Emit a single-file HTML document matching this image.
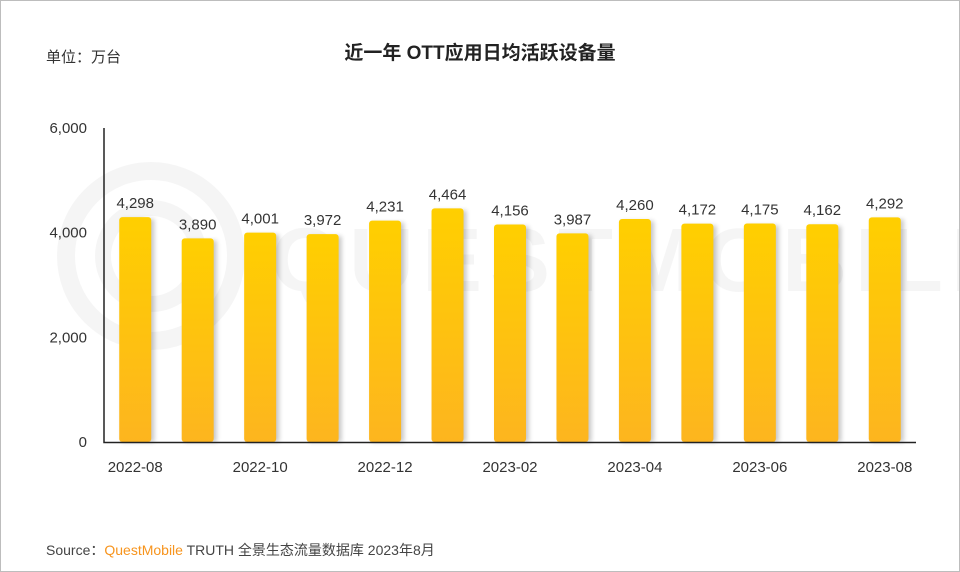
<!DOCTYPE html>
<html><head><meta charset="utf-8"><style>
body{margin:0;background:#fff;}
#wrap{position:relative;width:958px;height:570px;border:1px solid #bdbdbd;overflow:hidden;font-family:"Liberation Sans","Noto Sans CJK SC",sans-serif;}
</style></head><body>
<div id="wrap">
<svg id="chart" width="958" height="570">
<defs>
<linearGradient id="bg" x1="0" y1="0" x2="0" y2="1"><stop offset="0" stop-color="#ffcf00"/><stop offset="1" stop-color="#fdb51f"/></linearGradient>
<filter id="sh" x="-30%" y="-10%" width="160%" height="120%"><feGaussianBlur stdDeviation="2.5"/></filter>
</defs>
<g opacity="0.035" fill="none" stroke="#000">
<circle cx="150" cy="255" r="85" stroke-width="18"/><circle cx="150" cy="255" r="48" stroke-width="16"/>
<text x="270" y="290" font-size="90" fill="#000" stroke="none" font-weight="bold" letter-spacing="8">QUESTMOBILE</text>
</g>
<text x="45" y="61" font-size="15" fill="#333">单位：万台</text>
<text x="479" y="58" font-size="19" font-weight="bold" fill="#222" text-anchor="middle">近一年 OTT应用日均活跃设备量</text>
<g id="plot"></g>
<text x="45" y="554" font-size="14" fill="#444">Source：<tspan fill="#f7941d">QuestMobile</tspan> TRUTH 全景生态流量数据库 2023年8月</text>
</svg>
</div>
<script>
const categories=["2022-08","2022-09","2022-10","2022-11","2022-12","2023-01","2023-02","2023-03","2023-04","2023-05","2023-06","2023-07","2023-08"];
const values=[4298,3890,4001,3972,4231,4464,4156,3987,4260,4172,4175,4162,4292];
const yTicks=[0,2000,4000,6000];
const yTickLabels=["0","2,000","4,000","6,000"];
const NS="http://www.w3.org/2000/svg";
const g=document.getElementById('plot');
const x0=103,x1=915,yTop=127,yBot=441,yMax=6000;
const band=(x1-x0)/categories.length;
const xc=i=>x0+band*(i+0.5);
const y=v=>yBot-(v/yMax)*(yBot-yTop);
function mk(t,a){const e=document.createElementNS(NS,t);for(const k in a)e.setAttribute(k,a[k]);g.appendChild(e);return e;}
yTicks.forEach((v,i)=>{const t=mk('text',{x:x0-17,y:y(v)+5,'font-size':15,fill:'#333','text-anchor':'end'});t.textContent=yTickLabels[i];

});
values.forEach((v,i)=>{
const s=mk('rect',{x:xc(i)-13,y:y(v)+2,width:32,height:yBot-y(v)-2,fill:'#000',opacity:0.22,filter:'url(#sh)'});


const r=mk('rect',{x:xc(i)-16,y:y(v),width:32,height:yBot-y(v),rx:3,fill:'url(#bg)'});


const t=mk('text',{x:xc(i),y:y(v)-9,'font-size':15,fill:'#333','text-anchor':'middle'});t.textContent=v.toLocaleString('en-US');


if(i%2===0){const l=mk('text',{x:xc(i),y:471,'font-size':15,fill:'#333','text-anchor':'middle'});l.textContent=categories[i];

}
});
const ax=mk('path',{d:`M${x0} ${yTop}V${yBot+0.5}H${x1}`,stroke:'#222','stroke-width':1.5,fill:'none'});


</script>
</body></html>
